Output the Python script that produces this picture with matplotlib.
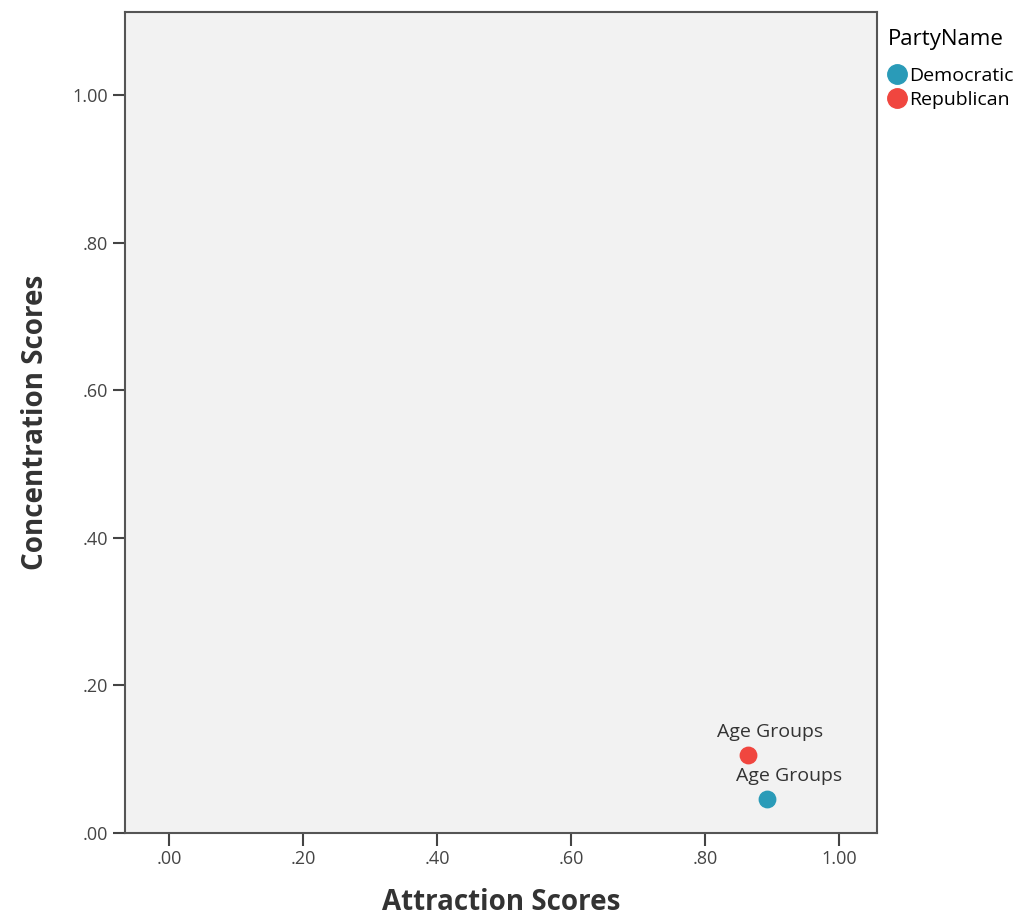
import matplotlib.pyplot as plt
from matplotlib.lines import Line2D

parties = ["Democratic", "Republican"]
attraction = [0.893, 0.864]
concentration = [0.046, 0.106]
point_labels = ["Age Groups", "Age Groups"]
colors = ["#2a9bb8", "#f0463f"]
ticks = [0.0, 0.2, 0.4, 0.6, 0.8, 1.0]
tick_labels = [".00", ".20", ".40", ".60", ".80", "1.00"]

plt.rcParams["font.family"] = ["Open Sans", "DejaVu Sans"]

fig = plt.figure(figsize=(10.34, 9.15), dpi=100)
ax = fig.add_axes([0.1209, 0.0896, 0.7273, 0.8973])
ax.set_facecolor("#f2f2f2")

for x, y, lab, c in zip(attraction, concentration, point_labels, colors):
    ax.scatter(x, y, s=140, color=c, zorder=3)
    ax.annotate(lab, (x, y), xytext=(16, 10), textcoords="offset points",
                ha="center", va="bottom", fontsize=14, color="#333333")

ax.set_xlim(-0.066, 1.057)
ax.set_ylim(0, 1.1125)
ax.set_xticks(ticks)
ax.set_xticklabels(tick_labels)
ax.set_yticks(ticks)
ax.set_yticklabels(tick_labels)
ax.tick_params(axis="both", labelsize=13, colors="#444444", length=9, width=1.5)
for s in ax.spines.values():
    s.set_color("#555555")
    s.set_linewidth(1.5)

ax.set_xlabel("Attraction Scores", fontsize=20, fontweight="bold", color="#333333", labelpad=14)
ax.set_ylabel("Concentration Scores", fontsize=20, fontweight="bold", color="#333333", labelpad=16)

handles = [Line2D([], [], marker="o", linestyle="", markersize=14, color=c) for c in colors]
leg = ax.legend(handles, parties, title="PartyName", loc="upper left",
                bbox_to_anchor=(1.006, 0.986), frameon=False, fontsize=14,
                title_fontsize=16, handletextpad=0.1, labelspacing=0.3,
                borderaxespad=0.0, borderpad=0.3, handlelength=1.0)
leg._legend_box.align = "left"
leg._legend_box.sep = 12

fig.savefig("out.png", dpi=100)
